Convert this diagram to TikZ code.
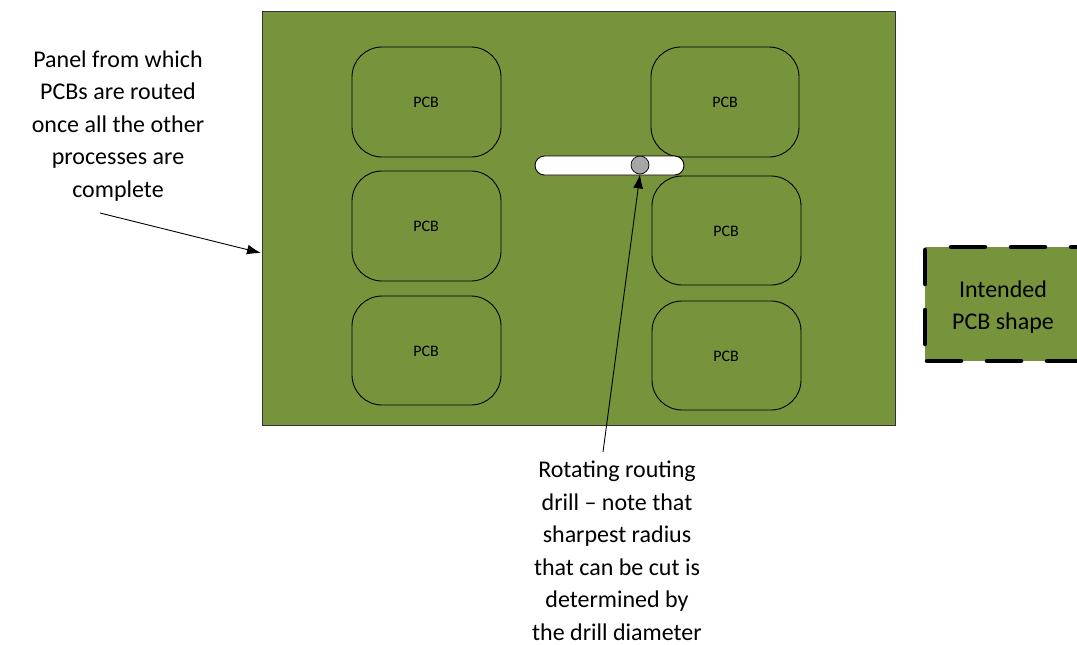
\documentclass[tikz,border=0pt]{standalone}
\usepackage{fontspec}
\setmainfont{Carlito}
\usetikzlibrary{arrows.meta}
\definecolor{board}{HTML}{77933C}
\definecolor{drillgray}{HTML}{A6A6A6}
\begin{document}
\begin{tikzpicture}[x=1pt,y=-1pt,
  pcb/.style={draw=black,line width=0.9pt,rounded corners=30pt},
  pcblbl/.style={font=\fontsize{16}{19}\selectfont},
  lbl/.style={align=center,font=\fontsize{24}{32.5}\selectfont,inner sep=0pt},
  arr/.style={draw=black,line width=0.9pt,-{Latex[length=14pt,width=10pt]}},
  dsh/.style={line width=4.5pt,dash pattern=on 34pt off 26pt,line cap=round}]
\useasboundingbox (0,0) rectangle (1077,645);
% panel
\path[fill=board,draw=black!80,line width=0.8pt] (262,11) rectangle (895,425);
\coordinate (panelL) at (261,253);
% PCBs
\draw[pcb] (352,47) rectangle (501,157);
\draw[pcb] (352,171) rectangle (501,281);
\draw[pcb] (352,296) rectangle (501,405);
\draw[pcb] (651,47) rectangle (799,157);
\draw[pcb] (652,176) rectangle (801,285);
\draw[pcb] (652,301) rectangle (801,410);
\node[pcblbl] (p1) at (426,102) {PCB};
\node[pcblbl] (p2) at (426,226) {PCB};
\node[pcblbl] (p3) at (426,351) {PCB};
\node[pcblbl] (p4) at (725,102) {PCB};
\node[pcblbl] (p5) at (726,231) {PCB};
\node[pcblbl] (p6) at (726,356) {PCB};
% slot
\draw[fill=white,draw=black,line width=0.9pt,rounded corners=9.5pt] (535,156) rectangle (684,175);
\node[circle,draw=black,fill=drillgray,line width=0.7pt,minimum size=18pt,inner sep=0pt] (drill) at (640,165) {};
% labels
\node[lbl] (panellbl) at (118,126) {Panel from which\\PCBs are routed\\once all the other\\processes are\\complete};
\coordinate (panelstart) at (100,213);
\draw[arr] (panelstart) -- (panelL);
\node[lbl] (drilllbl) at (617,551) {Rotating routing\\drill -- note that\\sharpest radius\\that can be cut is\\determined by\\the drill diameter};
\coordinate (drillstart) at (603,452);
\draw[arr] (drillstart) -- (drill.south);
% intended shape
\begin{scope}
\clip (900,230) rectangle (1077,380);
\path[fill=board] (925,247) rectangle (1090,361);
\draw[dsh,dash phase=34pt] (925,247) -- (1090,247);
\draw[dsh] (927,361) -- (1090,361);
\draw[dsh] (925,250) -- (925,361);
\end{scope}
\node[lbl] (intended) at (1003,307) {Intended\\PCB shape};
\end{tikzpicture}
\end{document}
